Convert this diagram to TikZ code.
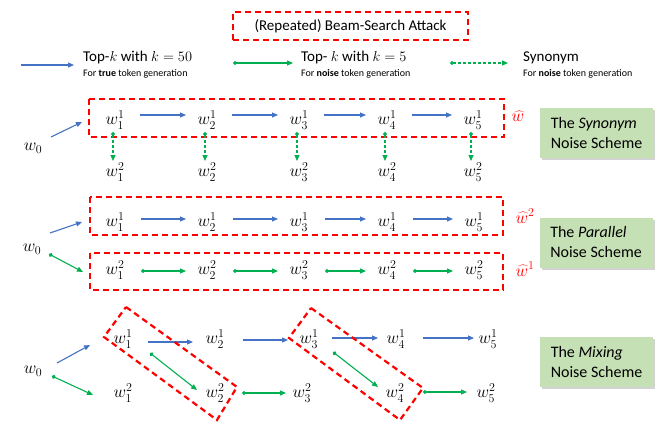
\documentclass[tikz,border=0pt]{standalone}
\usepackage{fontspec}
\setmainfont{Carlito}
\usetikzlibrary{arrows.meta,calc,shadows}
\definecolor{ablue}{HTML}{4472C4}
\definecolor{agreen}{HTML}{00B050}
\definecolor{ared}{HTML}{FF0000}
\definecolor{boxgreen}{HTML}{C5E0B4}
\tikzset{
 wn/.style={inner sep=1pt, font=\fontsize{18.5}{21}\selectfont},
 barrow/.style={draw=ablue, line width=1.1pt, -{Triangle[length=6pt,width=5pt]}},
 garrow/.style={draw=agreen, line width=1.1pt, {Circle[length=4pt]}-{Triangle[length=6pt,width=5pt]}},
 gdash/.style={garrow, dash pattern=on 3pt off 2pt},
 redbox/.style={draw=ared, line width=2.2pt, dash pattern=on 6pt off 4pt},
 scheme/.style={fill=boxgreen, drop shadow={shadow xshift=2pt, shadow yshift=-2pt, opacity=0.35}, minimum width=113pt, minimum height=50pt, align=left, font=\fontsize{16}{20}\selectfont, inner sep=0pt},
 lab/.style={anchor=west, inner sep=0pt, font=\fontsize{15}{17}\selectfont},
 sublab/.style={anchor=west, inner sep=0pt, font=\fontsize{10}{12}\selectfont},
 hatlab/.style={text=ared, inner sep=0pt, font=\fontsize{17}{20}\selectfont},
}
\begin{document}
\begin{tikzpicture}[x=1pt,y=-1pt]
\useasboundingbox (0,0) rectangle (664,431);
% ---------- title and legend ----------
\node[redbox, minimum width=235pt, minimum height=28pt, font=\fontsize{15}{17}\selectfont] (title) at (350.5,26) {(Repeated) Beam-Search Attack};
\coordinate (lb1) at (21,65); \coordinate (lb2) at (74,65);
\draw[barrow] (lb1) -- (lb2);
\node[lab] (l1) at (83,58) {Top-$k$ with $k=50$};
\node[sublab] (l1s) at (83,74) {For \textbf{true} token generation};
\coordinate (lg1) at (233,63); \coordinate (lg2) at (293,63);
\draw[garrow] (lg1) -- (lg2);
\node[lab] (l2) at (301,58) {Top- $k$ with $k=5$};
\node[sublab] (l2s) at (301,74) {For \textbf{noise} token generation};
\coordinate (ld1) at (450,63); \coordinate (ld2) at (508,63);
\draw[gdash] (ld1) -- (ld2);
\node[lab] (l3) at (523,58) {Synonym};
\node[sublab] (l3s) at (523,74) {For \textbf{noise} token generation};
% ---------- synonym scheme ----------
\node[wn] (a0) at (33,148) {$w_0$};
\foreach \i/\x in {1/115,2/207,3/299,4/387,5/473} {
  \node[wn] (a\i) at (\x,120) {$w_{\i}^{1}$};
  \node[wn] (b\i) at (\x,172) {$w_{\i}^{2}$};
}
\draw[redbox] (89,99) rectangle (504,137);
\node[hatlab] (h0) at (518,116) {$\widehat{w}$};
\node[scheme] (g1) at (596.5,133) {The \textit{Synonym}\\Noise Scheme};
\draw[barrow] ($(a0)+(18,-11)$) -- ($(a1)+(-33,2)$);
\foreach \i/\j in {1/2,2/3,3/4,4/5} \draw[barrow] ($(a\i)+(25,-5)$) -- ($(a\j)+(-21,-5)$);
\foreach \i in {1,...,5} \draw[gdash] ($(a\i)+(-2,12)$) -- ($(b\i)+(-2,-11)$);
% ---------- parallel scheme ----------
\node[wn] (c0) at (32,249) {$w_0$};
\foreach \i/\x in {1/115,2/207,3/299,4/387,5/474} {
  \node[wn] (p\i) at (\x,222) {$w_{\i}^{1}$};
  \node[wn] (q\i) at (\x,270) {$w_{\i}^{2}$};
}
\draw[redbox] (90,197) rectangle (503,235);
\draw[redbox] (90,253) rectangle (503,290);
\node[hatlab] (h2) at (525,216) {$\widehat{w}^{2}$};
\node[hatlab] (h1) at (525,269) {$\widehat{w}^{1}$};
\node[scheme] (g2) at (596,242.5) {The \textit{Parallel}\\Noise Scheme};
\draw[barrow] ($(c0)+(18,-16)$) -- ($(p1)+(-33,0)$);
\draw[garrow] ($(c0)+(17,5)$) -- ($(q1)+(-32,2)$);
\foreach \i/\j in {1/2,2/3,3/4,4/5} {
  \draw[barrow] ($(p\i)+(26,-3)$) -- ($(p\j)+(-21,-3)$);
  \draw[garrow] ($(q\i)+(26,1)$) -- ($(q\j)+(-21,1)$);
}
% ---------- mixing scheme ----------
\node[wn] (m0) at (33,371) {$w_0$};
\foreach \i/\x in {1/123,2/215,3/309,4/396,5/488} \node[wn] (n\i) at (\x,339) {$w_{\i}^{1}$};
\foreach \i/\x in {1/123,2/215,3/302,4/395,5/486} \node[wn] (o\i) at (\x,393) {$w_{\i}^{2}$};
\draw[barrow] ($(m0)+(24,-8)$) -- ($(n1)+(-33,6)$);
\draw[barrow] ($(n1)+(25,3)$) -- ($(n2)+(-22,3)$);
\draw[barrow] ($(n2)+(28,1)$) -- ($(n3)+(-21,1)$);
\draw[barrow] ($(n3)+(23,-1)$) -- ($(n4)+(-18,-1)$);
\draw[barrow] ($(n4)+(27,-1)$) -- ($(n5)+(-14,-1)$);
\draw[garrow] ($(m0)+(19,5)$) -- ($(o1)+(-30,2)$);
\draw[garrow] ($(n1)+(27,14)$) -- ($(o2)+(-18,-3)$);
\draw[garrow] ($(o2)+(27,0)$) -- ($(o3)+(-16,0)$);
\draw[garrow] ($(n3)+(24,13)$) -- ($(o4)+(-17,-6)$);
\draw[garrow] ($(o4)+(28,-1)$) -- ($(o5)+(-19,-1)$);
\draw[redbox] (126,307) -- (237,387) -- (217,420) -- (104,337) -- cycle;
\draw[redbox] (311,308) -- (423,388) -- (400,420) -- (289,338) -- cycle;
\node[scheme] (g3) at (596.5,362) {The \textit{Mixing}\\Noise Scheme};
\end{tikzpicture}
\end{document}
